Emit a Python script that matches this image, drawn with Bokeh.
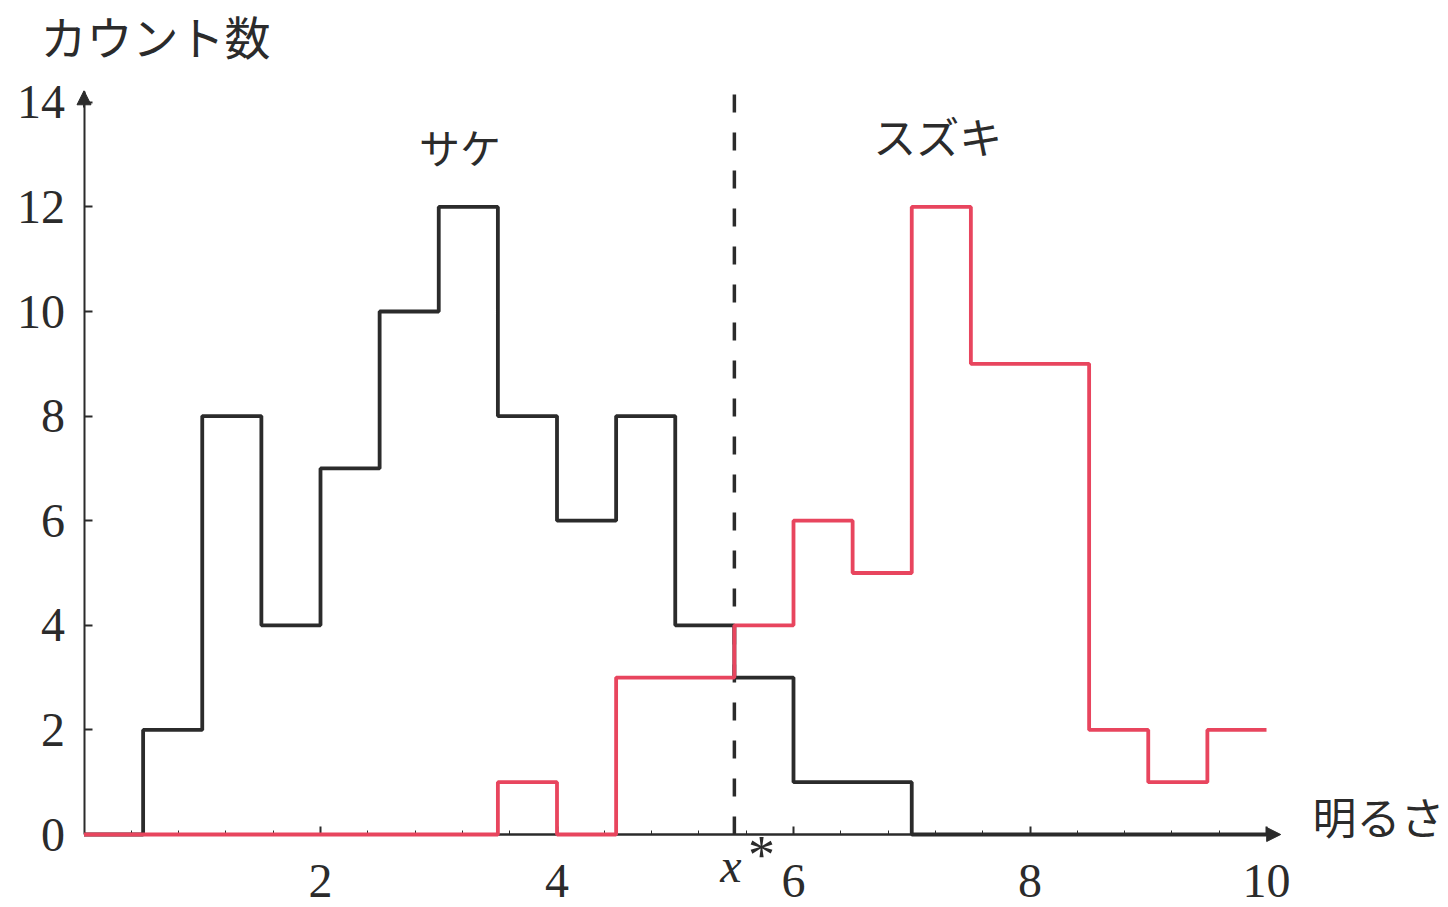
import numpy as np
from bokeh.plotting import figure
from bokeh.models import Range1d, FixedTicker, Arrow, NormalHead, Label
from bokeh.embed import file_html
from bokeh.resources import INLINE

# Histogram of brightness for two fish species, bin width 0.5 over [0, 10]
bin_edges = [0.0, 0.5, 1.0, 1.5, 2.0, 2.5, 3.0, 3.5, 4.0, 4.5, 5.0,
             5.5, 6.0, 6.5, 7.0, 7.5, 8.0, 8.5, 9.0, 9.5, 10.0]
salmon_counts = [0, 2, 8, 4, 7, 10, 12, 8, 6, 8, 4, 3, 1, 1, 0, 0, 0, 0, 0, 0]
seabass_counts = [0, 0, 0, 0, 0, 0, 0, 1, 0, 3, 3, 4, 6, 5, 12, 9, 9, 2, 1, 2]
x_star = 5.5
x_tick_values = [2, 4, 6, 8, 10]
y_tick_values = [0, 2, 4, 6, 8, 10, 12, 14]

# screen scale: pixels per data unit and the pixel position of the origin
PX_X, PX_Y = 118.25, 52.3
ORIGIN_X, ORIGIN_Y = 83.5, 834.0
W, H = 1448, 907

SERIF = "Liberation Serif"
CJK = "Noto Sans CJK JP"
INK = "#2b2b2b"
RED = "#e8455e"

p = figure(
    width=W, height=H,
    x_range=Range1d(-ORIGIN_X / PX_X, (W - ORIGIN_X) / PX_X),
    y_range=Range1d(-(H - ORIGIN_Y) / PX_Y, ORIGIN_Y / PX_Y),
    output_backend="svg", toolbar_location=None,
    min_border=0, outline_line_color=None,
)
p.grid.visible = False
p.background_fill_color = "white"
p.border_fill_color = "white"

# axes pinned to the origin
xa = p.xaxis[0]
xa.fixed_location = 0
xa.bounds = (0, 10.1)
xa.ticker = FixedTicker(ticks=x_tick_values, minor_ticks=list(np.arange(0.4, 10.0, 0.4)))
xa.axis_line_width = 2.5
xa.axis_line_color = INK
xa.major_tick_in = 8
xa.major_tick_out = 0
xa.minor_tick_in = 4
xa.minor_tick_out = 0
xa.major_tick_line_color = INK
xa.minor_tick_line_color = INK
xa.major_tick_line_width = 2
xa.major_label_text_font = SERIF
xa.major_label_text_font_size = "48px"
xa.major_label_text_color = INK
xa.major_label_standoff = 30

ya = p.yaxis[0]
ya.fixed_location = 0
ya.bounds = (0, 14.2)
ya.ticker = FixedTicker(ticks=y_tick_values, minor_ticks=[])
ya.axis_line_width = 2
ya.axis_line_color = INK
ya.major_tick_in = 8
ya.major_tick_out = 0
ya.major_tick_line_color = INK
ya.major_tick_line_width = 2
ya.major_label_text_font = SERIF
ya.major_label_text_font_size = "48px"
ya.major_label_text_color = INK
ya.major_label_standoff = 19

# arrow heads at the ends of the axes
p.add_layout(Arrow(end=NormalHead(size=14, fill_color=INK, line_color=INK),
                   x_start=9.9, y_start=0, x_end=10.12, y_end=0,
                   line_color=INK, line_width=2.5))
p.add_layout(Arrow(end=NormalHead(size=14, fill_color=INK, line_color=INK),
                   x_start=0, y_start=13.9, x_end=0, y_end=14.22,
                   line_color=INK, line_width=2))

# step outlines of the two histograms, drawn over the axis line
salmon_y = salmon_counts + [salmon_counts[-1]]
seabass_y = seabass_counts + [seabass_counts[-1]]
p.step(bin_edges, salmon_y, mode="after", line_color=INK, line_width=3.8, level="overlay")
p.step(bin_edges, seabass_y, mode="after", line_color=RED, line_width=3.8, level="overlay")

# decision boundary
p.segment(x0=[x_star], y0=[0], x1=[x_star], y1=[14.45],
          line_color=INK, line_width=3.5, line_dash="18 20")

def label(x, y, text, font, size, align="left", style="normal"):
    p.add_layout(Label(x=x, y=y, text=text, text_font=font, text_font_size=size,
                       text_color=INK, text_align=align, text_baseline="middle",
                       text_font_style=style))

label(-0.368, 15.28, "カウント数", CJK, "46px")
label(10.39, 0.36, "明るさ", CJK, "44px")
label(3.18, 13.17, "サケ", CJK, "41px", align="center")
label(7.22, 13.37, "スズキ", CJK, "43px", align="center")
label(x_star - 0.03, -0.6, "x", SERIF, "48px", align="center", style="italic")
label(5.73, -0.4, "*", SERIF, "54px", align="center")

open("out.html", "w").write(file_html(p, INLINE))
